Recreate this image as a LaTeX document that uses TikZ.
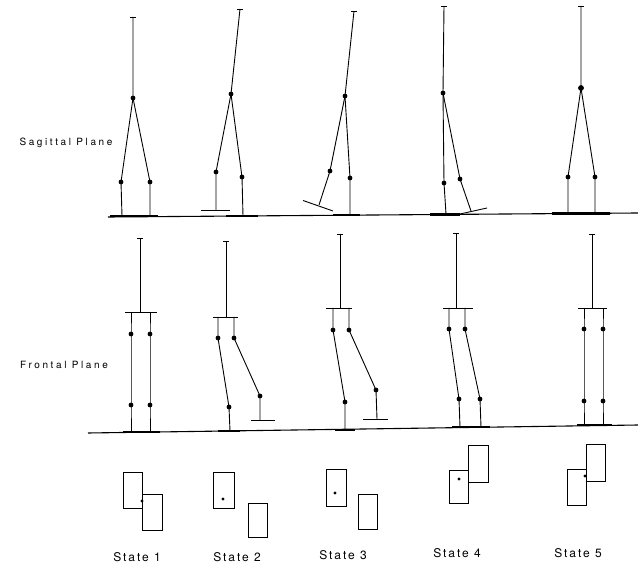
\documentclass[tikz,border=0pt]{standalone}
\usepackage{fontspec}
\newfontfamily\lettering[LetterSpace=26]{TeX Gyre Heros}
\newfontfamily\captionlettering[LetterSpace=16]{TeX Gyre Heros}
\usepackage{tikz}

\begin{document}
\begin{tikzpicture}[
    x=1pt, y=-1pt,
    limb/.style={line width=0.9pt},
    ground/.style={line width=1.1pt},
    sole/.style={line width=2.4pt},
    print/.style={draw, line width=0.9pt},
    planelabel/.style={font=\lettering\fontsize{10}{12}\selectfont},
    statelabel/.style={font=\captionlettering\fontsize{12}{14}\selectfont}
]
\useasboundingbox (0,0) rectangle (638,572);

% Sagittal plane: ground
\coordinate (sgl) at (108,217);
\coordinate (sgr) at (638,213);
\draw[ground] (sgl) -- (sgr);
\node[planelabel] (sagittal) at (66,143) {Sagittal Plane};

% Sagittal, state 1
\coordinate (a1top) at (133,17);  \coordinate (a1hip) at (133,98);
\coordinate (a1lk) at (121,182);  \coordinate (a1rk) at (150,182);
\coordinate (a1lf) at (122,216);  \coordinate (a1rf) at (150,216);
\draw[limb] (a1top) -- (a1hip) -- (a1lk) -- (a1lf);
\draw[limb] (a1hip) -- (a1rk) -- (a1rf);
\draw[sole] (110,216) -- (158,216);

% Sagittal, state 2
\coordinate (a2top) at (240,9);   \coordinate (a2hip) at (231,94);
\coordinate (a2lk) at (216,172);  \coordinate (a2rk) at (242,177);
\coordinate (a2lf) at (216,210);  \coordinate (a2rf) at (243,216);
\draw[limb] (a2top) -- (a2hip) -- (a2lk) -- (a2lf);
\draw[limb] (a2hip) -- (a2rk) -- (a2rf);
\draw[limb] (201,210) -- (230,210);
\draw[sole] (226,216) -- (258,216);

% Sagittal, state 3
\coordinate (a3top) at (354,11);  \coordinate (a3hip) at (345,96);
\coordinate (a3lk) at (330,171);  \coordinate (a3rk) at (350,178);
\coordinate (a3lf) at (319,205);  \coordinate (a3rf) at (350,215);
\draw[limb] (a3top) -- (a3hip) -- (a3lk) -- (a3lf);
\draw[limb] (a3hip) -- (a3rk) -- (a3rf);
\draw[limb] (303,200.5) -- (333,211);
\draw[sole] (333,215) -- (360,215);

% Sagittal, state 4
\coordinate (a4top) at (444,6);   \coordinate (a4hip) at (443,93);
\coordinate (a4lk) at (444,183);  \coordinate (a4rk) at (460,179);
\coordinate (a4lf) at (446,214);  \coordinate (a4rf) at (471,211);
\draw[limb] (a4top) -- (a4hip) -- (a4lk) -- (a4lf);
\draw[limb] (a4hip) -- (a4rk) -- (a4rf);
\draw[limb] (460,214) -- (487,208);
\draw[sole] (430,214.5) -- (460,214.5);

% Sagittal, state 5
\coordinate (a5top) at (581,6);   \coordinate (a5hip) at (581,88);
\coordinate (a5lk) at (568,177);  \coordinate (a5rk) at (595,177);
\coordinate (a5lf) at (568,213.5);\coordinate (a5rf) at (595,213.5);
\draw[limb] (a5top) -- (a5hip) -- (a5lk) -- (a5lf);
\draw[limb] (a5hip) -- (a5rk) -- (a5rf);
\draw[sole] (552,213.5) -- (610,213.5);

% head ticks and joints
\foreach \n in {1,...,5} {
    \draw[limb] (a\n top) ++(-3,0) -- ++(6,0);
    \foreach \j in {hip,lk,rk}
        \fill (a\n\j) circle (2.4pt);
}
\fill (a5hip) circle (2.9pt);

% Frontal plane: ground
\coordinate (fgl) at (88,433);
\coordinate (fgr) at (638,425);
\draw[ground] (fgl) -- (fgr);
\node[planelabel] (frontal) at (64,365) {Frontal Plane};

% Frontal, state 1
\coordinate (b1top) at (140,238); \coordinate (b1pel) at (140,312);
\coordinate (b1lh) at (131,312);  \coordinate (b1rh) at (150,312);
\coordinate (b1lu) at (131,334);  \coordinate (b1ru) at (150,334);
\coordinate (b1ll) at (131,405);  \coordinate (b1rl) at (150,405);
\coordinate (b1lf) at (131,432);  \coordinate (b1rf) at (150,432);
\draw[limb] (125,312) -- (157,312);
\draw[sole] (123,432) -- (160,432);

% Frontal, state 2
\coordinate (b2top) at (226,241); \coordinate (b2pel) at (226,317);
\coordinate (b2lh) at (218,317);  \coordinate (b2rh) at (234,317);
\coordinate (b2lu) at (218,338);  \coordinate (b2ru) at (234,338);
\coordinate (b2ll) at (229,407);  \coordinate (b2rl) at (260,396);
\coordinate (b2lf) at (230,431);  \coordinate (b2rf) at (260,420);
\draw[limb] (213,317) -- (238,317);
\draw[limb] (251,420) -- (275,420);
\draw[sole] (218,431) -- (240,431);

% Frontal, state 3
\coordinate (b3top) at (340,234); \coordinate (b3pel) at (340,308);
\coordinate (b3lh) at (333,308);  \coordinate (b3rh) at (349,308);
\coordinate (b3lu) at (333,330);  \coordinate (b3ru) at (349,330);
\coordinate (b3ll) at (345,402);  \coordinate (b3rl) at (376,390);
\coordinate (b3lf) at (345,430);  \coordinate (b3rf) at (377,419);
\draw[limb] (326,308) -- (352,308);
\draw[limb] (363,419) -- (388,419);
\draw[sole] (335,430) -- (355,430);

% Frontal, state 4
\coordinate (b4top) at (456,233); \coordinate (b4pel) at (456,308);
\coordinate (b4lh) at (449,308);  \coordinate (b4rh) at (465,308);
\coordinate (b4lu) at (449,329);  \coordinate (b4ru) at (465,329);
\coordinate (b4ll) at (459,399);  \coordinate (b4rl) at (480,399);
\coordinate (b4lf) at (460,427);  \coordinate (b4rf) at (481,427);
\draw[limb] (443,308) -- (473,308);
\draw[sole] (452,427) -- (490,427);

% Frontal, state 5
\coordinate (b5top) at (592,234); \coordinate (b5pel) at (592,308);
\coordinate (b5lh) at (584,308);  \coordinate (b5rh) at (603,308);
\coordinate (b5lu) at (584,329);  \coordinate (b5ru) at (603,329);
\coordinate (b5ll) at (584,401);  \coordinate (b5rl) at (603,401);
\coordinate (b5lf) at (584,425);  \coordinate (b5rf) at (603,425);
\draw[limb] (578,308) -- (607,308);
\draw[sole] (577,425) -- (612,425);

% trunks, legs and joints
\foreach \n in {1,...,5} {
    \draw[limb] (b\n top) ++(-3,0) -- ++(6,0);
    \draw[limb] (b\n top) -- (b\n pel);
    \draw[limb] (b\n lh) -- (b\n lu) -- (b\n ll) -- (b\n lf);
    \draw[limb] (b\n rh) -- (b\n ru) -- (b\n rl) -- (b\n rf);
    \foreach \j in {lu,ru,ll,rl}
        \fill (b\n\j) circle (2.4pt);
}

% Footprints
\draw[print] (123,472) rectangle (142,508);
\draw[print] (142,494) rectangle (162,530);
\fill (142,501) circle (1.7pt);

\draw[print] (213,472) rectangle (234,508);
\draw[print] (248,503) rectangle (267,537);
\fill (223,499) circle (1.7pt);

\draw[print] (326,469) rectangle (346,506);
\draw[print] (358,494) rectangle (377,529);
\fill (335,493) circle (1.7pt);

\draw[print] (449,470) rectangle (468,503);
\draw[print] (468,445) rectangle (488,482);
\fill (459,479) circle (1.7pt);

\draw[print] (567,469) rectangle (586,505);
\draw[print] (586,444) rectangle (605,481);
\fill (585,476) circle (1.7pt);

% State captions
\foreach \n/\x/\y in {1/137/557, 2/237/557, 3/343/555, 4/457/553, 5/578/553}
    \node[statelabel] (state\n) at (\x,\y) {State \n};

\end{tikzpicture}
\end{document}
